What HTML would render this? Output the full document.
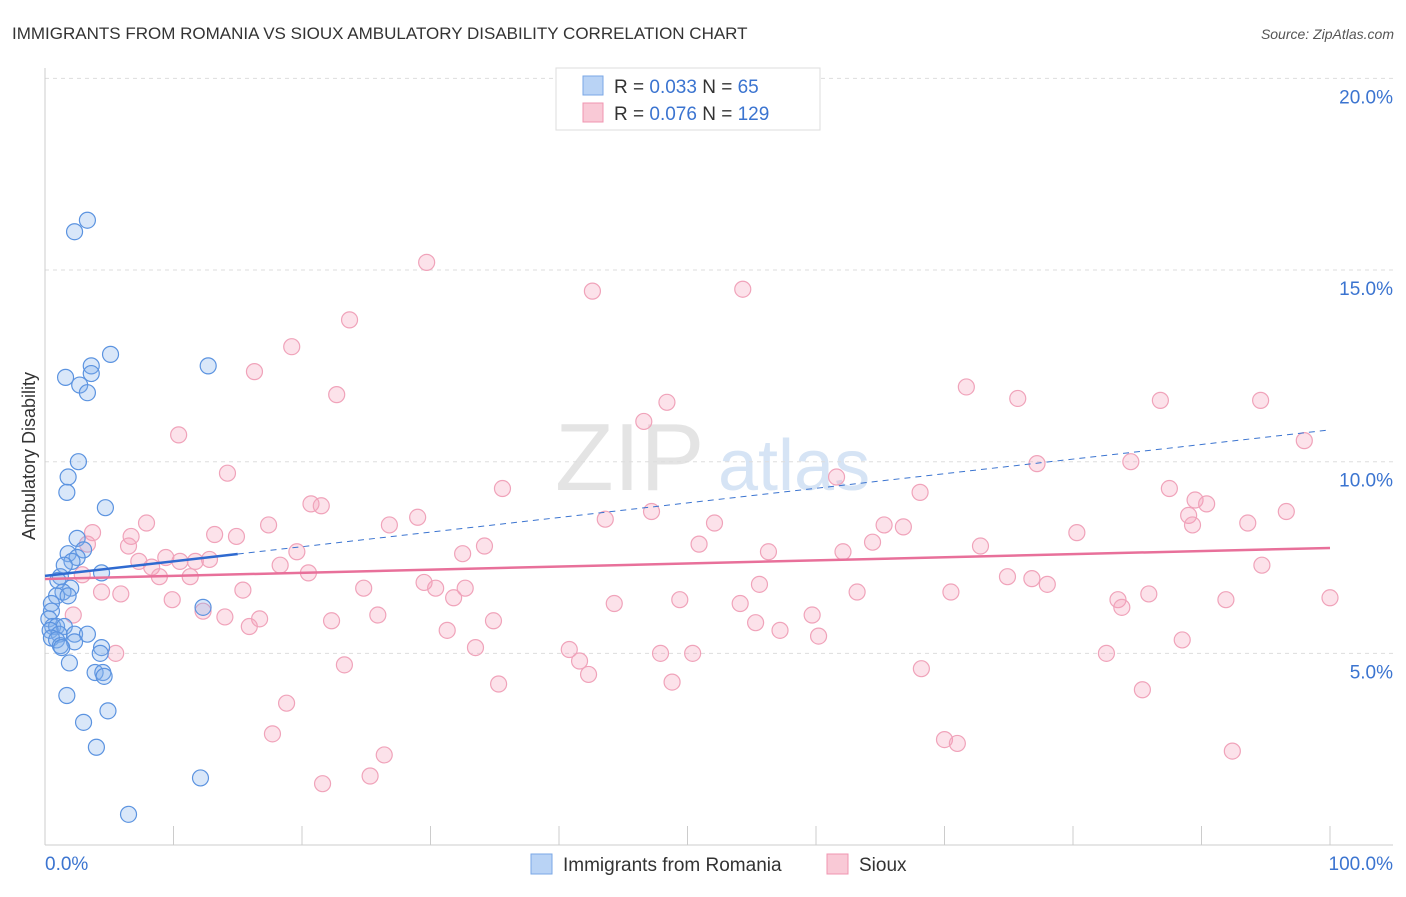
<!DOCTYPE html>
<html><head><meta charset="utf-8"><style>
body{margin:0;background:#fff;font-family:"Liberation Sans",sans-serif;}
svg text{font-family:"Liberation Sans",sans-serif;}
</style></head><body>
<svg id="chart" width="1406" height="892" xmlns="http://www.w3.org/2000/svg">
<text x="12" y="39" font-size="17" fill="#333">IMMIGRANTS FROM ROMANIA VS SIOUX AMBULATORY DISABILITY CORRELATION CHART</text>
<text x="1394" y="39" font-size="14" fill="#555" text-anchor="end" font-style="italic">Source: ZipAtlas.com</text>
<text x="555" y="490" font-size="96" fill="#e4e4e4" font-family="Liberation Serif">ZIP</text>
<text x="718" y="490" font-size="72" fill="#d6e4f5">atlas</text>
<g id="grid"></g>
<g id="axes"></g>
<g id="pts"></g>
<g id="trend"></g>
<text transform="translate(35,456) rotate(-90)" font-size="18" fill="#333" text-anchor="middle">Ambulatory Disability</text>
<g>
<rect x="556" y="68" width="264" height="62" fill="#fff" stroke="#ddd"/>
<rect x="583" y="76" width="20" height="19" fill="#b9d3f5" stroke="#7aa7e6"/>
<text x="614" y="93" font-size="19" fill="#333">R = <tspan fill="#3b74d0">0.033</tspan>   N =  <tspan fill="#3b74d0"> 65</tspan></text>
<rect x="583" y="103" width="20" height="19" fill="#f9c9d6" stroke="#f095b0"/>
<text x="614" y="120" font-size="19" fill="#333">R = <tspan fill="#3b74d0">0.076</tspan>   N = <tspan fill="#3b74d0">129</tspan></text>
</g>
<g>
<rect x="531" y="854" width="21" height="20" fill="#b9d3f5" stroke="#7aa7e6"/>
<text x="563" y="871" font-size="19" fill="#333">Immigrants from Romania</text>
<rect x="827" y="854" width="21" height="20" fill="#f9c9d6" stroke="#f095b0"/>
<text x="859" y="871" font-size="19" fill="#333">Sioux</text>
</g>
</svg>
<script>
const yTicks=[5,10,15,20];
const yTickLabels=["5.0%","10.0%","15.0%","20.0%"];
const xTickCount=10;
const blueX=[3.3,2.3,5.1,12.7,3.6,3.6,1.6,2.7,3.3,2.6,1.8,1.7,4.7,2.5,3.0,1.8,2.5,2.1,1.5,4.4,1.2,1.0,2.0,1.4,0.9,1.8,0.5,12.3,0.5,0.3,0.6,0.9,1.5,0.4,1.1,2.3,3.3,0.5,0.9,1.2,2.3,4.4,1.3,4.3,1.9,3.9,4.5,4.6,1.7,4.9,3.0,4.0,12.1,6.5];
const blueY=[16.3,16.0,12.8,12.5,12.5,12.3,12.2,12.0,11.8,10.0,9.6,9.2,8.8,8.0,7.7,7.6,7.5,7.4,7.3,7.1,7.0,6.9,6.7,6.6,6.5,6.5,6.3,6.2,6.1,5.9,5.7,5.7,5.7,5.6,5.5,5.5,5.5,5.4,5.35,5.2,5.3,5.15,5.15,5.0,4.75,4.5,4.5,4.4,3.9,3.5,3.2,2.55,1.75,0.8];
const pinkX=[29.7,42.6,54.3,23.7,19.2,16.3,71.7,22.7,75.7,86.8,94.6,48.4,46.6,10.4,98.0,77.2,84.5,14.2,61.6,35.6,87.5,68.1,89.5,90.4,20.7,21.5,96.6,47.2,29.0,43.6,89.0,52.1,93.6,7.9,26.8,17.4,65.3,66.8,89.3,3.7,13.2,6.7,14.9,80.3,64.4,3.3,6.5,34.2,50.9,72.8,19.6,56.3,62.1,32.5,9.4,7.3,12.8,10.5,11.7,8.3,18.3,94.7,20.5,2.9,8.9,11.3,74.9,76.8,29.5,78.0,55.6,30.4,32.7,15.4,24.8,70.5,63.2,4.4,5.9,85.9,31.8,83.5,91.9,100,49.4,9.9,44.3,54.1,83.8,12.3,2.2,14.0,25.9,59.7,16.7,22.3,34.9,55.3,15.9,31.3,57.2,60.2,88.5,33.5,40.8,5.5,47.9,50.4,82.6,41.6,23.3,68.2,42.3,35.3,48.8,85.4,18.8,17.7,70.0,71.0,92.4,26.4,25.3,21.6];
const pinkY=[15.2,14.45,14.5,13.7,13.0,12.35,11.95,11.75,11.65,11.6,11.6,11.55,11.05,10.7,10.55,9.95,10.0,9.7,9.6,9.3,9.3,9.2,9.0,8.9,8.9,8.85,8.7,8.7,8.55,8.5,8.6,8.4,8.4,8.4,8.35,8.35,8.35,8.3,8.35,8.15,8.1,8.05,8.05,8.15,7.9,7.85,7.8,7.8,7.85,7.8,7.65,7.65,7.65,7.6,7.5,7.4,7.45,7.4,7.4,7.25,7.3,7.3,7.1,7.05,7.0,7.0,7.0,6.95,6.85,6.8,6.8,6.7,6.7,6.65,6.7,6.6,6.6,6.6,6.55,6.55,6.45,6.4,6.4,6.45,6.4,6.4,6.3,6.3,6.2,6.1,6.0,5.95,6.0,6.0,5.9,5.85,5.85,5.8,5.7,5.6,5.6,5.45,5.35,5.15,5.1,5.0,5.0,5.0,5.0,4.8,4.7,4.6,4.45,4.2,4.25,4.05,3.7,2.9,2.75,2.65,2.45,2.35,1.8,1.6];
const blueTrend=[7.02,10.83]; // at x=0 and x=100
const blueSolidEnd=15;
const pinkTrend=[6.94,7.75];
const NS="http://www.w3.org/2000/svg";
const X=v=>45+v*12.85, Y=v=>845-v*38.33;
function mk(t,a,p){const e=document.createElementNS(NS,t);for(const k in a)e.setAttribute(k,a[k]);p.appendChild(e);return e;}
const grid=document.getElementById('grid'),axes=document.getElementById('axes'),pts=document.getElementById('pts'),tr=document.getElementById('trend');
yTicks.forEach((v,i)=>{
 const l=mk('line',{x1:45,x2:1393,y1:Y(v),y2:Y(v),stroke:'#ddd','stroke-dasharray':'4,4'},grid);
 
 
 const t=mk('text',{x:1393,y:Y(v)+25,'font-size':19,fill:'#3b74d0','text-anchor':'end'},axes);
 t.textContent=yTickLabels[i];
 
 
});
mk('line',{x1:45,x2:45,y1:68,y2:845,stroke:'#ccc'},axes);
mk('line',{x1:45,x2:1393,y1:845,y2:845,stroke:'#ccc'},axes);
for(let i=0;i<=xTickCount;i++){const x=X(i*100/xTickCount);const l=mk('line',{x1:x,x2:x,y1:826,y2:845,stroke:'#ccc'},axes);
 
 }
const x0=mk('text',{x:45,y:870,'font-size':19,fill:'#3b74d0'},axes);x0.textContent='0.0%';


const x1=mk('text',{x:1393,y:870,'font-size':19,fill:'#3b74d0','text-anchor':'end'},axes);x1.textContent='100.0%';


pinkX.forEach((v,i)=>{const c=mk('circle',{cx:X(v),cy:Y(pinkY[i]),r:8,fill:'rgba(244,160,185,0.3)',stroke:'#f0a3ba','stroke-width':1.2},pts);
 
 });
blueX.forEach((v,i)=>{const c=mk('circle',{cx:X(v),cy:Y(blueY[i]),r:8,fill:'rgba(130,175,235,0.3)',stroke:'#5b93e0','stroke-width':1.2},pts);
 
 });
const by=x=>blueTrend[0]+(blueTrend[1]-blueTrend[0])*x/100;
let l=mk('line',{x1:X(blueSolidEnd),y1:Y(by(blueSolidEnd)),x2:X(100),y2:Y(by(100)),stroke:'#3b74d0','stroke-width':1,'stroke-dasharray':'6,5'},tr);


l=mk('line',{x1:X(0),y1:Y(by(0)),x2:X(blueSolidEnd),y2:Y(by(blueSolidEnd)),stroke:'#2f6ad0','stroke-width':2.5},tr);


l=mk('line',{x1:X(0),y1:Y(pinkTrend[0]),x2:X(100),y2:Y(pinkTrend[1]),stroke:'#e8709a','stroke-width':2.5},tr);


</script>
</body></html>
